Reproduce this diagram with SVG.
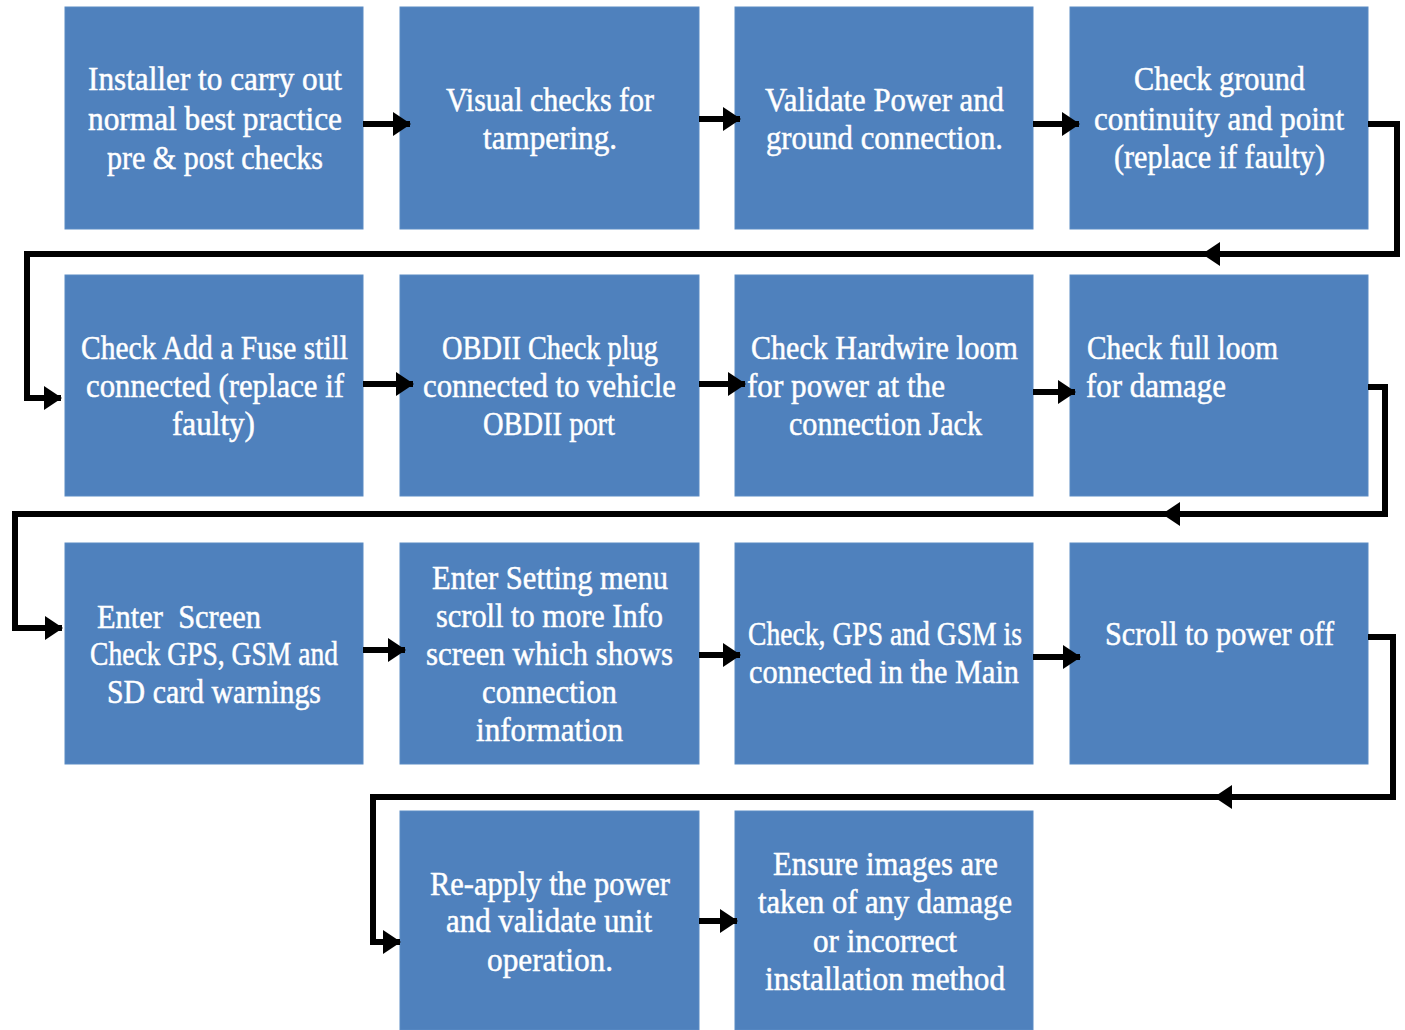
<svg xmlns="http://www.w3.org/2000/svg" width="1405" height="1030" viewBox="0 0 1405 1030">
<style>
.box{fill:#4F81BD;stroke:#5B8BC4;stroke-width:1}
.t{font-family:"Liberation Serif","DejaVu Serif",serif;font-size:34px;fill:#FFFFFF;stroke:#FFFFFF;stroke-width:0.5}
.c{fill:none;stroke:#000;stroke-width:6;stroke-linejoin:miter}
</style>
<defs>
<marker id="ah" markerUnits="userSpaceOnUse" markerWidth="18" markerHeight="24" viewBox="0 0 18 24" refX="17" refY="12" orient="auto">
<path d="M0,0 L18,12 L0,24 Z" fill="#000"/>
</marker>
</defs>
<rect width="1405" height="1030" fill="#FFFFFF"/>
<g id="n1"><rect class="box" x="65" y="7" width="298" height="222"/>
<text class="t" x="88" y="90" textLength="254" lengthAdjust="spacingAndGlyphs">Installer to carry out</text>
<text class="t" x="88" y="130" textLength="254" lengthAdjust="spacingAndGlyphs">normal best practice</text>
<text class="t" x="107" y="169" textLength="216" lengthAdjust="spacingAndGlyphs">pre &amp; post checks</text></g>
<g id="n2"><rect class="box" x="400" y="7" width="299" height="222"/>
<text class="t" x="446" y="111" textLength="208" lengthAdjust="spacingAndGlyphs">Visual checks for</text>
<text class="t" x="483" y="149" textLength="134" lengthAdjust="spacingAndGlyphs">tampering.</text></g>
<g id="n3"><rect class="box" x="735" y="7" width="298" height="222"/>
<text class="t" x="765" y="111" textLength="239" lengthAdjust="spacingAndGlyphs">Validate Power and</text>
<text class="t" x="766" y="149" textLength="237" lengthAdjust="spacingAndGlyphs">ground connection.</text></g>
<g id="n4"><rect class="box" x="1070" y="7" width="298" height="222"/>
<text class="t" x="1134" y="90" textLength="171" lengthAdjust="spacingAndGlyphs">Check ground</text>
<text class="t" x="1094" y="130" textLength="250" lengthAdjust="spacingAndGlyphs">continuity and point</text>
<text class="t" x="1114" y="168" textLength="211" lengthAdjust="spacingAndGlyphs">(replace if faulty)</text></g>
<g id="n5"><rect class="box" x="65" y="275" width="298" height="221"/>
<text class="t" x="81" y="359" textLength="267" lengthAdjust="spacingAndGlyphs">Check Add a Fuse still</text>
<text class="t" x="86" y="397" textLength="258" lengthAdjust="spacingAndGlyphs">connected (replace if</text>
<text class="t" x="172" y="435" textLength="83" lengthAdjust="spacingAndGlyphs">faulty)</text></g>
<g id="n6"><rect class="box" x="400" y="275" width="299" height="221"/>
<text class="t" x="442" y="359" textLength="216" lengthAdjust="spacingAndGlyphs">OBDII Check plug</text>
<text class="t" x="423" y="397" textLength="253" lengthAdjust="spacingAndGlyphs">connected to vehicle</text>
<text class="t" x="483" y="435" textLength="132" lengthAdjust="spacingAndGlyphs">OBDII port</text></g>
<g id="n7"><rect class="box" x="735" y="275" width="298" height="221"/>
<text class="t" x="751" y="359" textLength="267" lengthAdjust="spacingAndGlyphs">Check Hardwire loom</text>
<text class="t" x="747" y="397" textLength="198" lengthAdjust="spacingAndGlyphs">for power at the</text>
<text class="t" x="789" y="435" textLength="193" lengthAdjust="spacingAndGlyphs">connection Jack</text></g>
<g id="n8"><rect class="box" x="1070" y="275" width="298" height="221"/>
<text class="t" x="1087" y="359" textLength="191" lengthAdjust="spacingAndGlyphs">Check full loom</text>
<text class="t" x="1086" y="397" textLength="140" lengthAdjust="spacingAndGlyphs">for damage</text></g>
<g id="n9"><rect class="box" x="65" y="543" width="298" height="221"/>
<text class="t" x="97" y="628" textLength="164" lengthAdjust="spacingAndGlyphs" xml:space="preserve">Enter  Screen</text>
<text class="t" x="90" y="665" textLength="248" lengthAdjust="spacingAndGlyphs">Check GPS, GSM and</text>
<text class="t" x="107" y="703" textLength="214" lengthAdjust="spacingAndGlyphs">SD card warnings</text></g>
<g id="n10"><rect class="box" x="400" y="543" width="299" height="221"/>
<text class="t" x="432" y="589" textLength="236" lengthAdjust="spacingAndGlyphs">Enter Setting menu</text>
<text class="t" x="436" y="627" textLength="227" lengthAdjust="spacingAndGlyphs">scroll to more Info</text>
<text class="t" x="426" y="665" textLength="247" lengthAdjust="spacingAndGlyphs">screen which shows</text>
<text class="t" x="482" y="703" textLength="135" lengthAdjust="spacingAndGlyphs">connection</text>
<text class="t" x="476" y="741" textLength="147" lengthAdjust="spacingAndGlyphs">information</text></g>
<g id="n11"><rect class="box" x="735" y="543" width="298" height="221"/>
<text class="t" x="748" y="645" textLength="274" lengthAdjust="spacingAndGlyphs">Check, GPS and GSM is</text>
<text class="t" x="749" y="683" textLength="270" lengthAdjust="spacingAndGlyphs">connected in the Main</text></g>
<g id="n12"><rect class="box" x="1070" y="543" width="298" height="221"/>
<text class="t" x="1105" y="645" textLength="229" lengthAdjust="spacingAndGlyphs">Scroll to power off</text></g>
<g id="n13"><rect class="box" x="400" y="811" width="299" height="219"/>
<text class="t" x="430" y="895" textLength="240" lengthAdjust="spacingAndGlyphs">Re-apply the power</text>
<text class="t" x="446" y="932" textLength="206" lengthAdjust="spacingAndGlyphs">and validate unit</text>
<text class="t" x="487" y="971" textLength="126" lengthAdjust="spacingAndGlyphs">operation.</text></g>
<g id="n14"><rect class="box" x="735" y="811" width="298" height="219"/>
<text class="t" x="773" y="875" textLength="225" lengthAdjust="spacingAndGlyphs">Ensure images are</text>
<text class="t" x="758" y="913" textLength="254" lengthAdjust="spacingAndGlyphs">taken of any damage</text>
<text class="t" x="813" y="952" textLength="144" lengthAdjust="spacingAndGlyphs">or incorrect</text>
<text class="t" x="765" y="990" textLength="240" lengthAdjust="spacingAndGlyphs">installation method</text></g>
<g id="connectors">
<path class="c" d="M363,124 H410" marker-end="url(#ah)"/>
<path class="c" d="M699,119 H740" marker-end="url(#ah)"/>
<path class="c" d="M1033,124 H1079" marker-end="url(#ah)"/>
<path class="c" d="M1368,124 H1397 V254 H1203" marker-end="url(#ah)"/>
<path class="c" d="M1210,254 H27 V398 H61" marker-end="url(#ah)"/>
<path class="c" d="M363,384 H413" marker-end="url(#ah)"/>
<path class="c" d="M699,384 H745" marker-end="url(#ah)"/>
<path class="c" d="M1033,392 H1075" marker-end="url(#ah)"/>
<path class="c" d="M1368,387 H1385 V514 H1163" marker-end="url(#ah)"/>
<path class="c" d="M1170,514 H15 V628 H62" marker-end="url(#ah)"/>
<path class="c" d="M363,650 H405" marker-end="url(#ah)"/>
<path class="c" d="M699,655 H740" marker-end="url(#ah)"/>
<path class="c" d="M1033,657 H1080" marker-end="url(#ah)"/>
<path class="c" d="M1368,637 H1393 V797 H1215" marker-end="url(#ah)"/>
<path class="c" d="M1222,797 H373 V942 H400" marker-end="url(#ah)"/>
<path class="c" d="M699,921 H737" marker-end="url(#ah)"/>
</g>
</svg>
